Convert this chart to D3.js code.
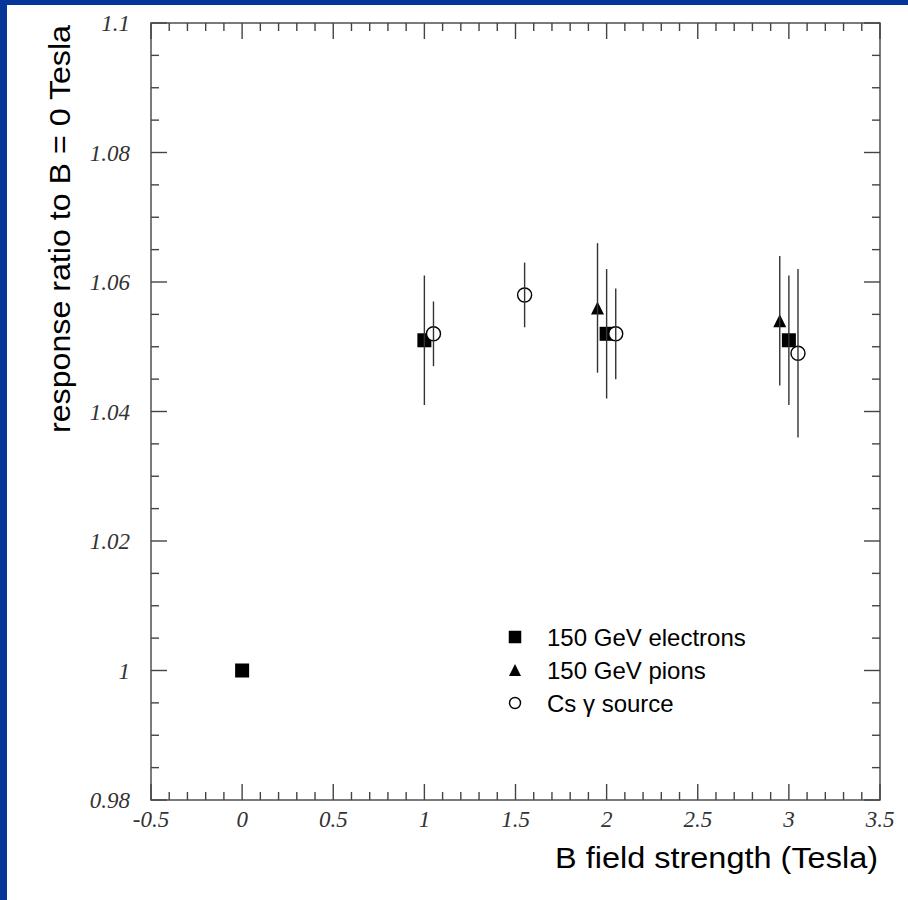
<!DOCTYPE html>
<html>
<head>
<meta charset="utf-8">
<script src="https://cdn.jsdelivr.net/npm/d3@7"></script>
<style>
  html, body { margin: 0; padding: 0; background: #fff; }
  svg { display: block; }
</style>
</head>
<body>
<svg id="chart" width="908" height="900"></svg>
<script>
// Response ratio vs. magnetic field strength
const electronB   = [0, 1, 2, 3];
const electronR   = [1.000, 1.051, 1.052, 1.051];
const electronErr = [0, 0.010, 0.010, 0.010];

const pionB   = [1.95, 2.95];
const pionR   = [1.056, 1.054];
const pionErr = [0.010, 0.010];

const csB   = [1.05, 1.55, 2.05, 3.05];
const csR   = [1.052, 1.058, 1.052, 1.049];
const csErr = [0.005, 0.005, 0.007, 0.013];

const xTickValues = [-0.5, 0, 0.5, 1, 1.5, 2, 2.5, 3, 3.5];
const xTickLabels = ["-0.5", "0", "0.5", "1", "1.5", "2", "2.5", "3", "3.5"];
const yTickValues = [0.98, 1.00, 1.02, 1.04, 1.06, 1.08, 1.10];
const yTickLabels = ["0.98", "1", "1.02", "1.04", "1.06", "1.08", "1.1"];

const legendLabels = ["150 GeV electrons", "150 GeV pions", "Cs \u03B3 source"];

const svg = d3.select("#chart");
const W = 908, H = 900;
const plot = { left: 151, right: 880, top: 23, bottom: 800 };

const x = d3.scaleLinear().domain([-0.5, 3.5]).range([plot.left, plot.right]);
const y = d3.scaleLinear().domain([0.98, 1.10]).range([plot.bottom, plot.top]);

// page frame
svg.append("rect").attr("x", 0).attr("y", 0).attr("width", W).attr("height", H).attr("fill", "#fff");
svg.append("rect").attr("x", 0).attr("y", 0).attr("width", 7).attr("height", H).attr("fill", "#06359a");
svg.append("rect").attr("x", 0).attr("y", 0).attr("width", W).attr("height", 5).attr("fill", "#06359a");

const axisColor = "#444";
const g = svg.append("g");

// frame box
g.append("rect")
  .attr("x", plot.left).attr("y", plot.top)
  .attr("width", plot.right - plot.left).attr("height", plot.bottom - plot.top)
  .attr("fill", "none").attr("stroke", axisColor).attr("stroke-width", 1.4);

const MAJ = 16, MIN = 8;

// x ticks (major every 0.5, minor every 0.1) on bottom and top, pointing inward
const xMinor = d3.range(-0.5, 3.5001, 0.1).map(v => +v.toFixed(2));
xMinor.forEach(v => {
  const isMajor = Math.abs(v * 2 - Math.round(v * 2)) < 1e-6;
  const len = isMajor ? MAJ : MIN;
  const px = x(v);
  g.append("line").attr("x1", px).attr("x2", px)
    .attr("y1", plot.bottom).attr("y2", plot.bottom - len)
    .attr("stroke", axisColor).attr("stroke-width", 1.4);
  g.append("line").attr("x1", px).attr("x2", px)
    .attr("y1", plot.top).attr("y2", plot.top + len)
    .attr("stroke", axisColor).attr("stroke-width", 1.4);
});

// y ticks (major every 0.02, minor every 0.005) on left and right
const yMinor = d3.range(0.98, 1.10001, 0.005).map(v => +v.toFixed(3));
yMinor.forEach(v => {
  const k = Math.round((v - 0.98) / 0.005);
  const len = (k % 4 === 0) ? MAJ : MIN;
  const py = y(v);
  g.append("line").attr("x1", plot.left).attr("x2", plot.left + len)
    .attr("y1", py).attr("y2", py)
    .attr("stroke", axisColor).attr("stroke-width", 1.4);
  g.append("line").attr("x1", plot.right).attr("x2", plot.right - len)
    .attr("y1", py).attr("y2", py)
    .attr("stroke", axisColor).attr("stroke-width", 1.4);
});

// tick labels
const tickFont = "'Liberation Serif', 'Times New Roman', serif";
xTickValues.forEach((v, i) => {
  g.append("text").attr("x", x(v)).attr("y", 827)
    .attr("text-anchor", "middle")
    .attr("font-family", tickFont).attr("font-style", "italic").attr("font-size", 23)
    .attr("fill", "#333").text(xTickLabels[i]);
});
yTickValues.forEach((v, i) => {
  g.append("text").attr("x", 130).attr("y", y(v) + 8)
    .attr("text-anchor", "end")
    .attr("font-family", tickFont).attr("font-style", "italic").attr("font-size", 23)
    .attr("fill", "#333").text(yTickLabels[i]);
});

// axis titles
const sans = "'Liberation Sans', Arial, sans-serif";
g.append("text").attr("x", 878).attr("y", 868)
  .attr("text-anchor", "end")
  .attr("font-family", sans).attr("font-size", 30)
  .attr("textLength", 323).attr("lengthAdjust", "spacingAndGlyphs")
  .attr("fill", "#000").text("B field strength (Tesla)");

g.append("text")
  .attr("transform", "translate(70,25) rotate(-90)")
  .attr("text-anchor", "end")
  .attr("font-family", sans).attr("font-size", 30)
  .attr("textLength", 408).attr("lengthAdjust", "spacingAndGlyphs")
  .attr("fill", "#000").text("response ratio to B = 0 Tesla");

// marker shapes
function square(sel, cx, cy, s) {
  sel.append("rect").attr("x", cx - s / 2).attr("y", cy - s / 2)
    .attr("width", s).attr("height", s).attr("fill", "#000");
}
function triangle(sel, cx, cy, s) {
  const h = s;
  sel.append("path")
    .attr("d", `M${cx},${cy - h / 2} L${cx + s / 2},${cy + h / 2} L${cx - s / 2},${cy + h / 2} Z`)
    .attr("fill", "#000");
}
function circle(sel, cx, cy, r) {
  sel.append("circle").attr("cx", cx).attr("cy", cy).attr("r", r)
    .attr("fill", "#fff").attr("stroke", "#000").attr("stroke-width", 1.4);
}

function errorBars(bs, rs, es) {
  bs.forEach((b, i) => {
    if (es[i] <= 0) return;
    g.append("line")
      .attr("x1", x(b)).attr("x2", x(b))
      .attr("y1", y(rs[i] - es[i])).attr("y2", y(rs[i] + es[i]))
      .attr("stroke", "#333").attr("stroke-width", 1.4);
  });
}

const marks = g.append("g");
// electrons
errorBars(electronB, electronR, electronErr);
// pions
errorBars(pionB, pionR, pionErr);
// Cs source
errorBars(csB, csR, csErr);

electronB.forEach((b, i) => square(marks, x(b), y(electronR[i]), 14));
pionB.forEach((b, i) => triangle(marks, x(b), y(pionR[i]), 13));
csB.forEach((b, i) => circle(marks, x(b), y(csR[i]), 7));

// legend
const legend = g.append("g");
const legRows = [637, 670, 703];
square(legend, 515, legRows[0], 12.5);
triangle(legend, 515, legRows[1], 12);
circle(legend, 515, legRows[2], 5.5);
legendLabels.forEach((t, i) => {
  legend.append("text").attr("x", 547).attr("y", legRows[i] + 9)
    .attr("font-family", sans).attr("font-size", 24)
    .attr("fill", "#000").text(t);
});
</script>
</body>
</html>
